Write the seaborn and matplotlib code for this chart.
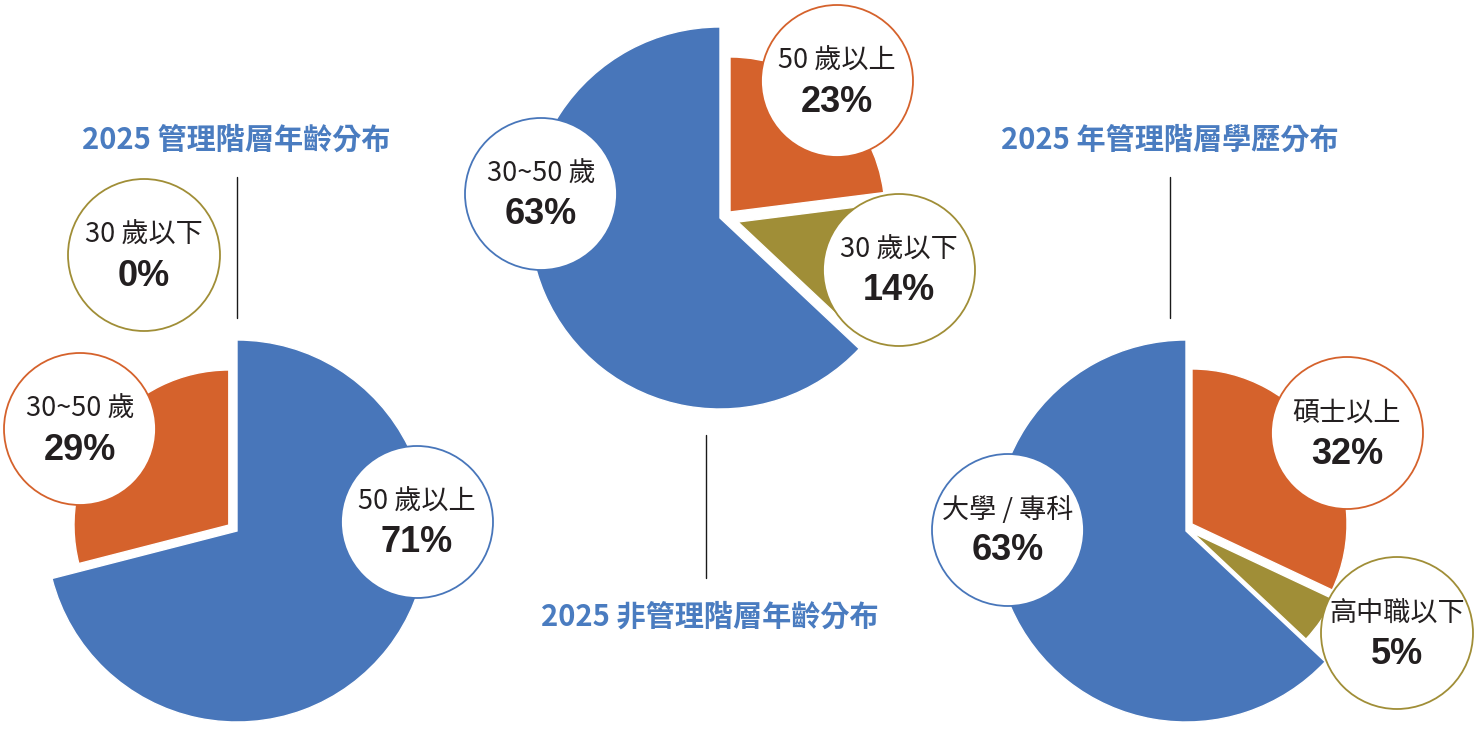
import numpy as np
import seaborn as sns
import matplotlib.pyplot as plt
from matplotlib.patches import Circle

sns.set_theme(style="white")
plt.rcParams['font.family'] = ['Noto Sans CJK TC', 'DejaVu Sans']

# 2025 管理階層年齡分布 (clockwise from 12 o'clock)
mgr_age_labels = ["50 歲以上", "30~50 歲", "30 歲以下"]
mgr_age_values = [71, 29, 0]

# 2025 非管理階層年齡分布
staff_age_labels = ["50 歲以上", "30 歲以下", "30~50 歲"]
staff_age_values = [23, 14, 63]

# 2025 年管理階層學歷分布
edu_labels = ["碩士以上", "高中職以下", "大學 / 專科"]
edu_values = [32, 5, 63]

titles = ["2025 管理階層年齡分布", "2025 非管理階層年齡分布", "2025 年管理階層學歷分布"]

BLUE, ORANGE, OLIVE = sns.color_palette(["#4876ba", "#d5622c", "#a08e37"])
TITLE_BLUE = "#4a7cc0"
TEXT = "#231f20"
W, H = 1481, 742
R_BIG, R_SMALL, R_BUBBLE = 191, 155, 76

# layout in pixel coords (y down); shift = how far each slice is pulled out
charts = [
    dict(labels=mgr_age_labels, values=mgr_age_values, colors=[BLUE, ORANGE, OLIVE],
         center=(237, 531), shift=[None, (-8, -6), (-8, -6)],
         bubbles=[(417, 522), (80, 429), (144, 255)],
         title=titles[0], title_pos=(236, 140), line=(237, 177, 318)),
    dict(labels=staff_age_labels, values=staff_age_values, colors=[ORANGE, OLIVE, BLUE],
         center=(720, 218), shift=[(10, -6), (18, 4), None],
         bubbles=[(837, 81), (899, 270), (541, 194)],
         title=titles[1], title_pos=(710, 617), line=(706, 435, 578)),
    dict(labels=edu_labels, values=edu_values, colors=[ORANGE, OLIVE, BLUE],
         center=(1186, 531), shift=[(6, -7), (7, 2), None],
         bubbles=[(1347, 433), (1397, 633), (1008, 530)],
         title=titles[2], title_pos=(1170, 140), line=(1170, 177, 318)),
]

fig = plt.figure(figsize=(W / 100, H / 100), dpi=100)
ax = fig.add_axes([0, 0, 1, 1])

for c in charts:
    cx, cy = c["center"]
    wedges, _ = ax.pie(c["values"], colors=c["colors"], startangle=90, counterclock=False,
                       center=(cx, H - cy), radius=R_BIG,
                       wedgeprops=dict(edgecolor="white", linewidth=1))
    # the smaller slices are pulled out and drawn with a shorter radius
    for w, s in zip(wedges, c["shift"]):
        if s is not None:
            w.set_center((cx + s[0], H - cy - s[1]))
            w.set_radius(R_SMALL)

    for (bx, by), lab, val, col in zip(c["bubbles"], c["labels"], c["values"], c["colors"]):
        ax.add_patch(Circle((bx, H - by), R_BUBBLE, facecolor="white", edgecolor=col,
                            lw=1.3, zorder=5))
        ax.text(bx, H - by + 20, lab, ha="center", va="center", fontsize=19.5,
                color=TEXT, zorder=6)
        ax.text(bx, H - by - 21, f"{val}%", ha="center", va="center", fontsize=26,
                fontweight="bold", family=["Liberation Sans", "DejaVu Sans"],
                color=TEXT, zorder=6)

    tx, ty = c["title_pos"]
    ax.text(tx, H - ty, c["title"], ha="center", va="center", fontsize=21,
            fontweight="bold", color=TITLE_BLUE)
    lx, y1, y2 = c["line"]
    ax.plot([lx, lx], [H - y1, H - y2], color="#1a1a1a", lw=1)

ax.set_xlim(0, W)
ax.set_ylim(0, H)
ax.set_axis_off()
fig.savefig("out.png", dpi=100, facecolor="white")
